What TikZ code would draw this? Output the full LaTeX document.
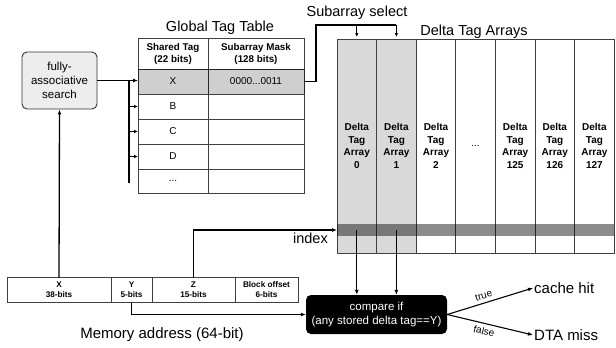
\documentclass[tikz,border=0pt]{standalone}
\usepackage{fontspec}
\setmainfont{Liberation Sans}
\usetikzlibrary{arrows.meta,positioning}

\begin{document}
\begin{tikzpicture}[x=1pt,y=-1pt,
  srch/.style={draw=black!80,fill=black!7,rounded corners=5pt,line width=0.9pt,
               minimum width=75pt,minimum height=57pt,align=center,
               font=\fontsize{11.5}{14}\selectfont},
  cmpbox/.style={fill=black,text=white,rounded corners=5pt,
                 minimum width=141pt,minimum height=39pt,align=center,
                 font=\fontsize{11.5}{13.5}\selectfont},
  cell/.style={draw=black!75,line width=0.7pt,outer sep=0pt,inner sep=0pt,
               minimum height=25pt,font=\fontsize{10}{12}\selectfont},
  tcell/.style={cell,minimum width=70pt},
  mcell/.style={cell,minimum width=96pt},
  hcell/.style={cell,minimum height=31pt,align=center,
                font=\bfseries\fontsize{9.8}{12}\selectfont},
  sel/.style={fill=black!19,draw=black!85},
  dta/.style={draw=black!75,line width=0.7pt,outer sep=0pt,inner sep=0pt,
              minimum width=39.6pt,minimum height=214pt,align=center,
              font=\bfseries\fontsize{10}{12.5}\selectfont},
  fld/.style={draw=black!75,line width=0.7pt,outer sep=0pt,inner sep=0pt,
              minimum height=25pt,align=center,
              font=\bfseries\fontsize{8.2}{10}\selectfont},
  lbl/.style={inner sep=1pt,font=\fontsize{14.5}{17}\selectfont},
  big/.style={inner sep=1pt,font=\fontsize{15}{17}\selectfont},
  arr/.style={-{Latex[length=5pt,width=4pt]},line width=1.3pt},
  tip/.style={-{Latex[length=4pt,width=3.5pt]},line width=1.3pt}
]
\useasboundingbox (0,0) rectangle (616,348);

% search unit
\node[srch] (search) at (59.5,80.5) {fully-\\associative\\search};

% global tag table
\node[lbl] (gtt) at (220,28) {Global Tag Table};
\node[hcell,minimum width=70pt] (htag) at (173,53.5) {Shared Tag\\(22 bits)};
\node[hcell,minimum width=96pt,right=0pt of htag] (hmask) {Subarray Mask\\(128 bits)};
\node[tcell,sel,below=0pt of htag] (tx) {X};
\node[mcell,sel,right=0pt of tx] (mx) {0000...0011};
\node[tcell,below=0pt of tx] (tb) {B};
\node[mcell,right=0pt of tb] (mb) {};
\node[tcell,below=0pt of tb] (tc) {C};
\node[mcell,right=0pt of tc] (mc) {};
\node[tcell,below=0pt of tc] (td) {D};
\node[mcell,right=0pt of td] (md) {};
\node[tcell,minimum height=24pt,below=0pt of td] (te) {...};
\node[mcell,minimum height=24pt,right=0pt of te] (me) {};

% delta tag arrays
\node[lbl] (ssel) at (357,13) {Subarray select};
\node[lbl] (dtitle) at (474,32) {Delta Tag Arrays};
\node[dta,fill=black!15] (d0) at (356.8,146) {Delta\\Tag\\Array\\0};
\node[dta,fill=black!15,right=0pt of d0] (d1) {Delta\\Tag\\Array\\1};
\node[dta,right=0pt of d1] (d2) {Delta\\Tag\\Array\\2};
\node[dta,right=0pt of d2,font=\fontsize{10}{12}\selectfont] (d3) {...};
\node[dta,right=0pt of d3] (d125) {Delta\\Tag\\Array\\125};
\node[dta,right=0pt of d125] (d126) {Delta\\Tag\\Array\\126};
\node[dta,right=0pt of d126] (d127) {Delta\\Tag\\Array\\127};
\node[fill=black,fill opacity=0.45,inner sep=0pt,outer sep=0pt,anchor=west,
      minimum width=277pt,minimum height=12pt] (band) at (d0.west |- 0,230) {};

% memory address
\node[fld,minimum width=104pt] (ax) at (59,290) {X\\38-bits};
\node[fld,minimum width=41pt,right=0pt of ax] (ay) {Y\\5-bits};
\node[fld,minimum width=83pt,right=0pt of ay] (az) {Z\\15-bits};
\node[fld,minimum width=63pt,right=0pt of az] (aoff) {Block offset\\6-bits};
\node[big] (maddr) at (162,335) {Memory address (64-bit)};

% comparison and outcome
\node[cmpbox] (cmp) at (376.5,314.5) {compare if\\(any stored delta tag==Y)};
\node[big,anchor=west] (hit) at (533,288) {cache hit};
\node[big,anchor=west] (miss) at (533,335) {DTA miss};

% lookup in the tag table
\coordinate (bt) at (129,80.5);
\coordinate (bb) at (129,183);
\draw[arr] (ax.north) -- (search.south);
\draw[arr] (search.east) -- (search.east -| tx.west);
\draw[line width=2.4pt] (bt) -- (bb);
\draw[tip] (bt |- tb.west) -- (tb.west);
\draw[tip] (bt |- tc.west) -- (tc.west);
\draw[tip] (bt |- td.west) -- (td.west);

% subarray select
\draw[line width=1.3pt] (mx.east) -- ++(12,0) |- (d1.center |- 0,25) coordinate (s2);
\draw[tip,shorten >=2pt] (d0.center |- s2) -- (d0.north);
\draw[tip,shorten >=2pt] (s2) -- (d1.north);

% index and compare
\draw[arr] (az.north) |- (band.west);
\node[lbl,below left=2pt and 8pt of band.west] (idx) {index};
\draw[arr] (d0.center |- band.center) -- (d0.center |- cmp.north);
\draw[arr] (d1.center |- band.center) -- (d1.center |- cmp.north);
\draw[arr] (ay.south) |- (cmp.west);
\draw[arr,line width=1.1pt] (cmp.east) -- node[sloped,above,pos=0.45,font=\fontsize{10}{12}\selectfont] {true} (hit.west);
\draw[arr,line width=1.1pt] (cmp.east) -- node[sloped,below,pos=0.45,font=\fontsize{10}{12}\selectfont] {false} (miss.west);
\end{tikzpicture}
\end{document}
